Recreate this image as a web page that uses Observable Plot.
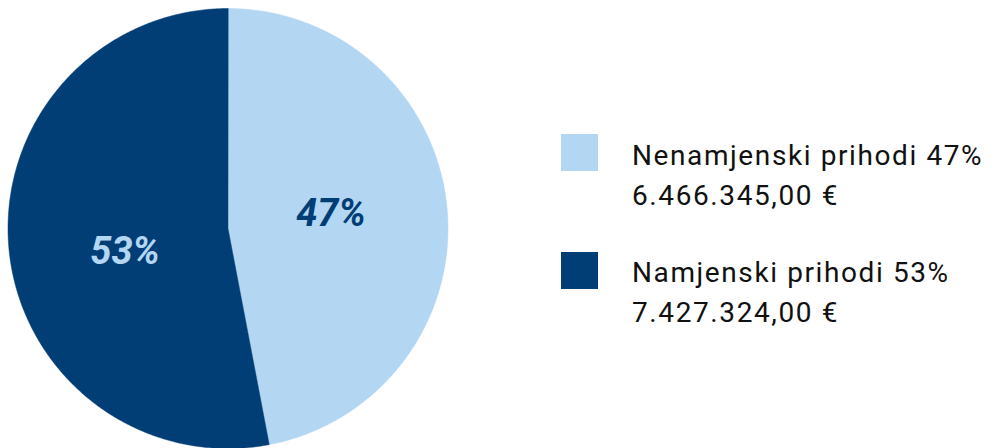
<!DOCTYPE html>
<html>
<head>
<meta charset="utf-8">
<script src="https://cdn.jsdelivr.net/npm/d3@7"></script>
<script src="https://cdn.jsdelivr.net/npm/@observablehq/plot@0.6"></script>
<style>
  body { margin: 0; background: #fff; }
  #wrap { position: relative; width: 993px; height: 448px; overflow: hidden; font-family: Roboto, "Open Sans", sans-serif; }
  #chart { position: absolute; left: 0; top: 0; }
  .sw { position: absolute; width: 37px; height: 37px; }
  .txt { position: absolute; white-space: nowrap; font-size: 28px; line-height: 40px; letter-spacing: 1.6px; color: #111; font-weight: 400; }
</style>
</head>
<body>
<div id="wrap"><div id="chart"></div></div>
<script>
const categories = ["Nenamjenski prihodi", "Namjenski prihodi"];
const amounts = [6466345.00, 7427324.00];
const amountLabels = ["6.466.345,00 €", "7.427.324,00 €"];
const percents = [47, 53];
const colors = ["#b3d7f3", "#023e76"];
const labelColors = ["#023e76", "#b3d7f3"];

// Build slices (unit circle, angle measured clockwise from top; y grows downward)
const total = d3.sum(percents);
let acc = 0;
const slices = categories.map((c, i) => {
  const a0 = acc / total * 2 * Math.PI;
  acc += percents[i];
  const a1 = acc / total * 2 * Math.PI;
  const ring = [[0, 0]];
  const n = Math.max(2, Math.ceil((a1 - a0) / (Math.PI / 360)));
  for (let k = 0; k <= n; k++) {
    const t = a0 + (a1 - a0) * k / n;
    ring.push([Math.sin(t), -Math.cos(t)]);
  }
  ring.push([0, 0]);
  const mid = (a0 + a1) / 2;
  return {
    type: "Feature",
    properties: {name: c, pct: percents[i], color: colors[i], labelColor: labelColors[i], lx: 0.47 * Math.sin(mid), ly: -0.47 * Math.cos(mid), i},
    geometry: {type: "Polygon", coordinates: [ring]}
  };
});
const outline = {type: "Feature", geometry: {type: "Polygon", coordinates: [d3.range(0, 361, 1).map(d => [Math.sin(d * Math.PI / 180), -Math.cos(d * Math.PI / 180)])]}};
const labels = slices.map(s => s.properties);

const plot = Plot.plot({
  width: 993,
  height: 448,
  marginLeft: 7,
  marginRight: 545,
  marginTop: 8,
  marginBottom: 0,
  projection: {type: "identity", domain: outline},
  marks: [
    Plot.geo(slices, {fill: d => d.properties.color, stroke: d => d.properties.color, strokeWidth: 0.5}),
    Plot.text(labels.filter(d => d.i === 0), {x: "lx", y: "ly", text: d => d.pct + "%", fill: "labelColor", fontSize: 38, fontWeight: "bold", fontStyle: "italic", fontFamily: "Roboto, sans-serif", dy: -5}),
    Plot.text(labels.filter(d => d.i === 1), {x: "lx", y: "ly", text: d => d.pct + "%", fill: "labelColor", fontSize: 38, fontWeight: "bold", fontStyle: "italic", fontFamily: "Roboto, sans-serif", dy: 14})
  ]
});
document.getElementById("chart").appendChild(plot);

// Legend
const wrap = document.getElementById("wrap");
const tops = [134, 252];
const textTops = [136, 253];
categories.forEach((c, i) => {
  const sw = document.createElement("div");
  sw.className = "sw";
  sw.style.background = colors[i];
  sw.style.left = "561px";
  sw.style.top = tops[i] + "px";
  wrap.appendChild(sw);
  const t = document.createElement("div");
  t.className = "txt";
  t.style.left = "632px";
  t.style.top = textTops[i] + "px";
  t.innerHTML = `${c} ${percents[i]}%<br>${amountLabels[i]}`;
  wrap.appendChild(t);
});
</script>
</body>
</html>
